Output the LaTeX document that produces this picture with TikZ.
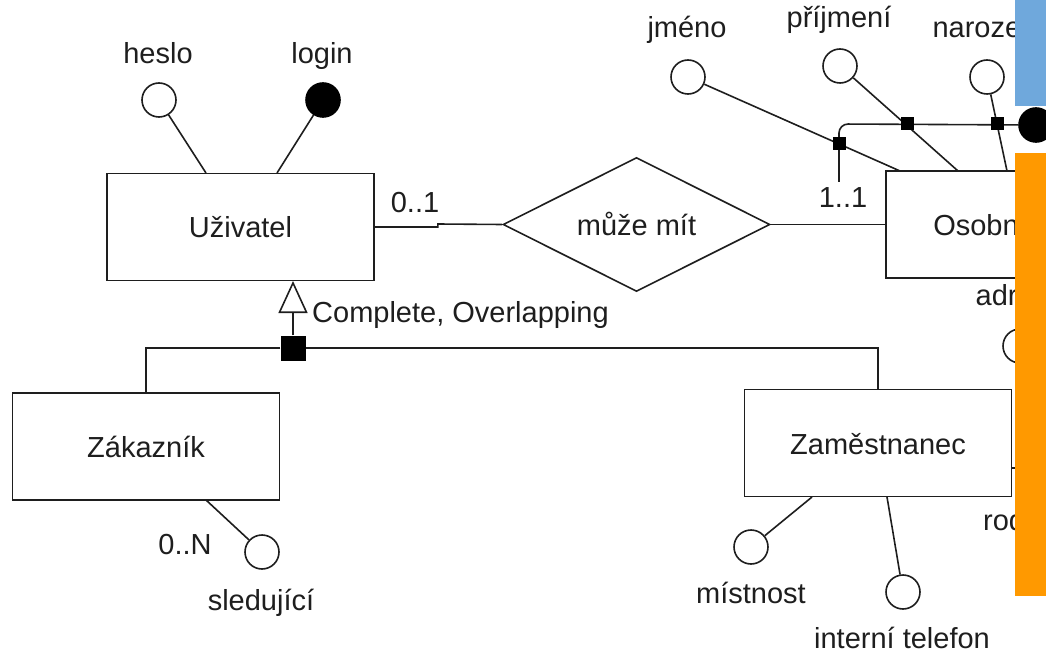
\documentclass[tikz,border=0pt]{standalone}
\usepackage{fontspec}
\setmainfont{Liberation Sans}
\usetikzlibrary{shapes.geometric,arrows.meta}
\definecolor{ink}{HTML}{1E1E1E}
\definecolor{panelblue}{HTML}{6FA8DC}
\definecolor{panelorange}{HTML}{FF9900}
\tikzset{
  every node/.style={font=\fontsize{29}{34}\selectfont, text=ink},
  entity/.style={draw=ink, line width=1.6pt, fill=white, minimum width=267pt,
    minimum height=107pt, inner sep=0pt, text height=28pt, text depth=6pt},
  rel/.style={diamond, aspect=2, draw=ink, line width=1.6pt, fill=white, minimum width=267pt,
    minimum height=134pt, inner sep=0pt, text height=28pt, text depth=6pt},
  attr/.style={circle, draw=ink, line width=1.6pt, fill=white, minimum size=34pt, inner sep=0pt},
  keyattr/.style={attr, fill=black, draw=black},
  keysq/.style={rectangle, fill=black, minimum size=13pt, inner sep=0pt},
  gensq/.style={rectangle, fill=black, minimum size=25pt, inner sep=0pt},
  link/.style={draw=ink, line width=1.6pt},
  lbl/.style={anchor=base, inner sep=0pt},
  genarrow/.style={link, -{Triangle[open, length=32pt, width=29pt]}},
}
\begin{document}
\begin{tikzpicture}[x=1pt, y=-1pt]
\useasboundingbox (0,0) rectangle (1046,652);
\clip (0,0) rectangle (1046,652);

% entities and relationship
\node[entity] (uz) at (240.5,227) {Uživatel};
\node[entity] (zk) at (146,446.5) {Zákazník};
\node[entity] (zm) at (878,443) {Zaměstnanec};
\node[entity] (os) at (1019.5,224.5) {Osobní údaje};
\node[rel] (mm) at (636.5,224.5) {může mít};

% attributes
\node[attr] (heslo) at (159,100) {};
\node[keyattr] (login) at (323,100) {};
\node[attr] (sled) at (262,552) {};
\node[attr] (mist) at (751,547) {};
\node[attr] (tel) at (903,592) {};
\node[attr] (jmeno) at (688,77) {};
\node[attr] (prij) at (840,66) {};
\node[attr] (naroz) at (987,77) {};
\node[attr] (adr) at (1020,346) {};
\node[keyattr] (key) at (1036,125) {};

% attachment points on entity borders
\coordinate (uzA) at (206,173);
\coordinate (uzL) at (277,173);
\coordinate (uzG) at (293,281);
\coordinate (osJ) at (900,171);
\coordinate (osP) at (958,171);
\coordinate (osN) at (1007,171);
\coordinate (zkS) at (206,500);
\coordinate (zmM) at (812,497);
\coordinate (zmT) at (887,497);
\coordinate (zmR) at (1012,468);
\coordinate (zmRo) at (1046,468);
\coordinate (kc) at (839,124);
\coordinate (kend) at (839,182);

% attribute links
\draw[link] (heslo) -- (uzA);
\draw[link] (login) -- (uzL);
\draw[link] (sled) -- (zkS);
\draw[link] (mist) -- (zmM);
\draw[link] (tel) -- (zmT);
\draw[link] (jmeno) -- (osJ);
\draw[link] (prij) -- (osP);
\draw[link] (naroz) -- (osN);
\draw[link] (zmR) -- (zmRo);

% composite identifier
\draw[link, rounded corners=9pt] (key) -- (kc) -- (kend);
\node[keysq] (sq1) at (839,144) {};
\node[keysq] (sq2) at (907,124) {};
\node[keysq] (sq3) at (997,124) {};

% relationship links
\draw[link] (uz.east) -- ++(63,0) -- ++(0,-3) -- (mm.west);
\draw[link] (mm.east) -- (os.west);

% generalisation
\node[gensq] (gs) at (293,348) {};
\draw[genarrow] (gs) -- (uzG);
\draw[link] (gs.west) -| (zk.north);
\draw[link] (gs.east) -| (zm.north);

% labels
\node[lbl] at (158,64) {heslo};
\node[lbl] at (322,64) {login};
\node[lbl] at (415,213) {0..1};
\node[lbl] at (843,208) {1..1};
\node[lbl, anchor=base west] at (312,322) {Complete, Overlapping};
\node[lbl] at (185,554) {0..N};
\node[lbl] at (261,610) {sledující};
\node[lbl] at (751,603) {místnost};
\node[lbl] at (902,648) {interní telefon};
\node[lbl] at (687,38) {jméno};
\node[lbl] at (839,28) {příjmení};
\node[lbl] at (989,38) {narození};
\node[lbl] at (1020,305) {adresa};
\node[lbl, anchor=base west] at (983,530) {rodné číslo};

% side panels
\fill[panelblue] (1015,0) rectangle (1046,106);
\fill[panelorange] (1015,153) rectangle (1046,596);
\end{tikzpicture}
\end{document}
